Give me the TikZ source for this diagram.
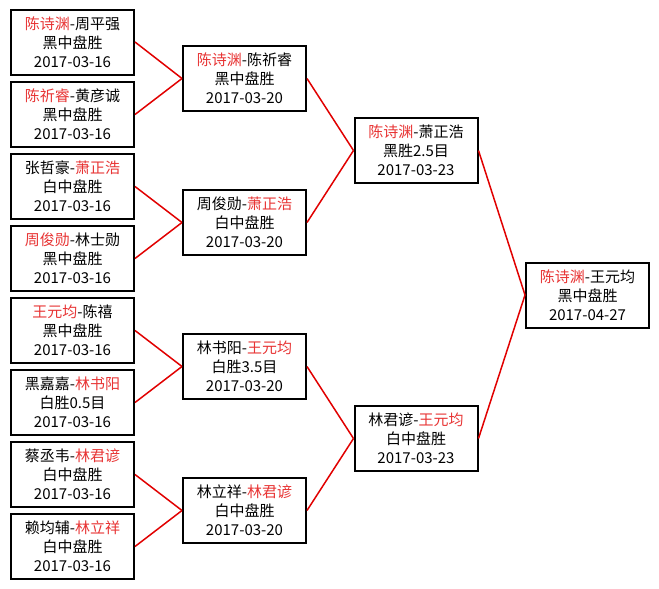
\documentclass[tikz,border=0pt]{standalone}
\usepackage{fontspec}
\setmainfont{Noto Sans CJK SC}
\definecolor{win}{RGB}{232,52,52}
\definecolor{link}{RGB}{225,0,0}
\newcommand{\wn}[1]{\textcolor{win}{#1}}
\begin{document}
\begin{tikzpicture}[x=1pt,y=-1pt,
  game/.style={draw=black,line width=2pt,fill=white,minimum width=123pt,minimum height=65pt,
    inner sep=1pt,align=center,font=\fontsize{15}{19}\selectfont},
  edge/.style={draw=link,line width=1.5pt}]
\useasboundingbox[fill=white] (0,0) rectangle (659,589);
% round 1
\node[game] (r1a) at (72.5,42) {\wn{陈诗渊}-周平强\\黑中盘胜\\2017-03-16};
\node[game] (r1b) at (72.5,114.5) {\wn{陈祈睿}-黄彦诚\\黑中盘胜\\2017-03-16};
\node[game] (r1c) at (72.5,186.5) {张哲豪-\wn{萧正浩}\\白中盘胜\\2017-03-16};
\node[game] (r1d) at (72.5,258.5) {\wn{周俊勋}-林士勋\\黑中盘胜\\2017-03-16};
\node[game] (r1e) at (72.5,330.5) {\wn{王元均}-陈禧\\黑中盘胜\\2017-03-16};
\node[game] (r1f) at (72.5,402.5) {黑嘉嘉-\wn{林书阳}\\白胜0.5目\\2017-03-16};
\node[game] (r1g) at (72.5,474.5) {蔡丞韦-\wn{林君谚}\\白中盘胜\\2017-03-16};
\node[game] (r1h) at (72.5,546.5) {赖均辅-\wn{林立祥}\\白中盘胜\\2017-03-16};
% round 2
\node[game] (r2a) at (244.5,78.5) {\wn{陈诗渊}-陈祈睿\\黑中盘胜\\2017-03-20};
\node[game] (r2b) at (244.5,222.5) {周俊勋-\wn{萧正浩}\\白中盘胜\\2017-03-20};
\node[game] (r2c) at (244.5,366.5) {林书阳-\wn{王元均}\\白胜3.5目\\2017-03-20};
\node[game] (r2d) at (244.5,510.5) {林立祥-\wn{林君谚}\\白中盘胜\\2017-03-20};
% round 3
\node[game] (r3a) at (416,150.5) {\wn{陈诗渊}-萧正浩\\黑胜2.5目\\2017-03-23};
\node[game] (r3b) at (416,438.5) {林君谚-\wn{王元均}\\白中盘胜\\2017-03-23};
% final
\node[game] (r4) at (587.5,295) {\wn{陈诗渊}-王元均\\黑中盘胜\\2017-04-27};
% connectors
\foreach \c/\p in {r1a/r2a,r1b/r2a,r1c/r2b,r1d/r2b,r1e/r2c,r1f/r2c,r1g/r2d,r1h/r2d,
                   r2a/r3a,r2b/r3a,r2c/r3b,r2d/r3b,r3a/r4,r3b/r4}
  \draw[edge] (\c.east) -- (\p.west);
\end{tikzpicture}
\end{document}
